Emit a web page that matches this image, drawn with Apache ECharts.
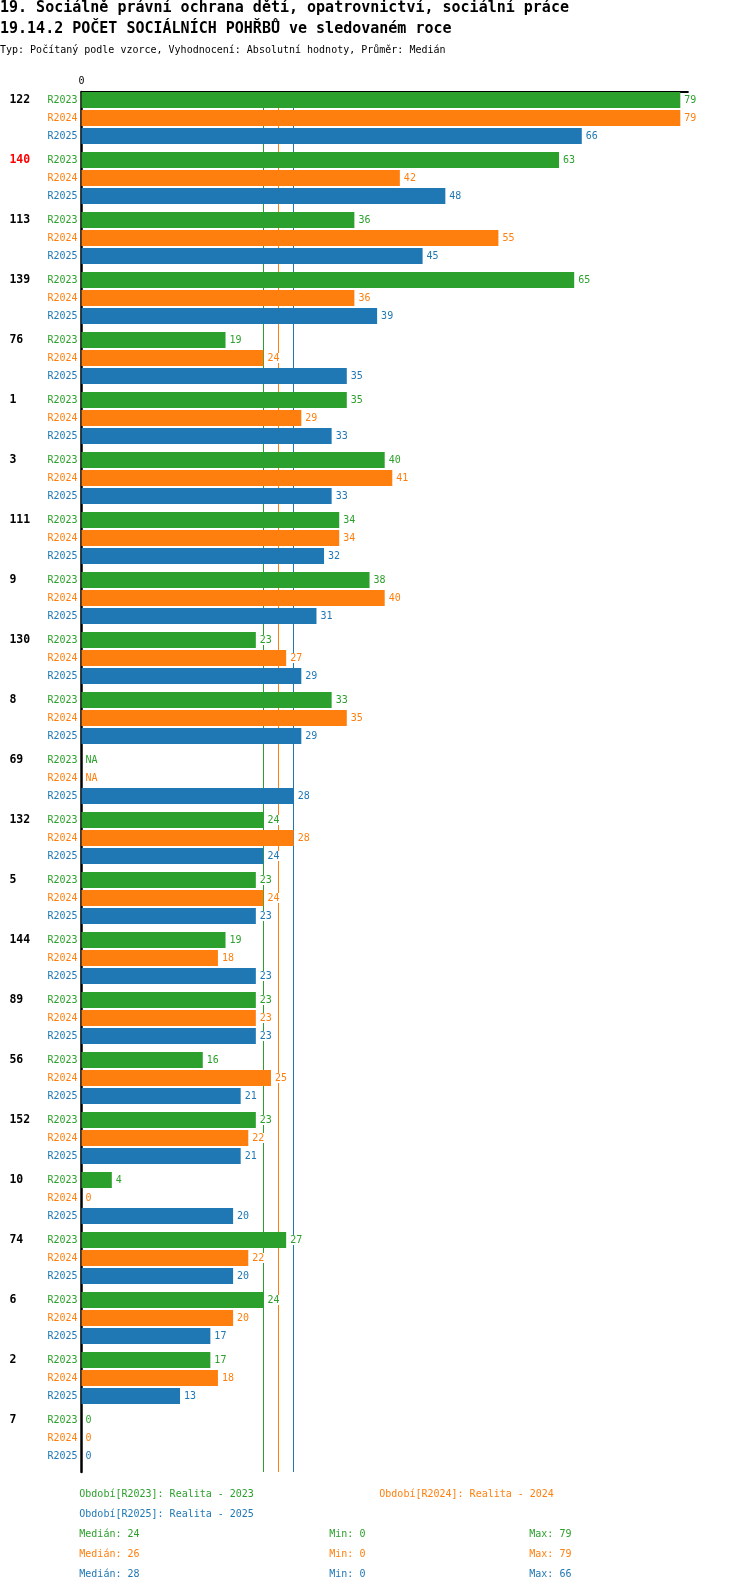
<!DOCTYPE html>
<html>
<head>
<meta charset="utf-8">
<script src="https://cdn.jsdelivr.net/npm/echarts@6/dist/echarts.min.js"></script>
<style>
html,body{margin:0;padding:0;background:#fff;}
#chart{width:750px;height:1592px;}
</style>
</head>
<body>
<div id="chart"></div>
<script>
const titleLine1 = '19. Sociálně právní ochrana dětí, opatrovnictví, sociální práce';
const titleLine2 = '19.14.2 POČET SOCIÁLNÍCH POHŘBŮ ve sledovaném roce';
const subtitle = 'Typ: Počítaný podle vzorce, Vyhodnocení: Absolutní hodnoty, Průměr: Medián';

const categories = ['122','140','113','139','76','1','3','111','9','130','8','69','132','5','144','89','56','152','10','74','6','2','7'];
const highlighted = ['140'];
const periods = ['R2023','R2024','R2025'];
const periodNames = ['Realita - 2023','Realita - 2024','Realita - 2025'];
const r2023 = [79,63,36,65,19,35,40,34,38,23,33,null,24,23,19,23,16,23,4,27,24,17,0];
const r2024 = [79,42,55,36,24,29,41,34,40,27,35,null,28,24,18,23,25,22,0,22,20,18,0];
const r2025 = [66,48,45,39,35,33,33,32,31,29,29,28,24,23,23,23,21,21,20,20,17,13,0];
const medians = [24,26,28];
const mins = [0,0,0];
const maxs = [79,79,66];
const colors = ['#2ca02c','#ff7f0e','#1f77b4'];

const FONT = "'DejaVu Sans Mono', monospace";
const seriesValues = [r2023, r2024, r2025];

function toData(arr){
  return arr.map(v => v === null ? {value: 0, label: {formatter: 'NA'}} : v);
}

const series = periods.map((p, i) => ({
  name: p,
  type: 'bar',
  data: toData(seriesValues[i]),
  barWidth: 16,
  barGap: '12.5%',
  itemStyle: {color: colors[i]},
  label: {
    show: true,
    position: 'right',
    distance: 3,
    color: colors[i],
    fontFamily: FONT,
    fontSize: 10,
    backgroundColor: '#fff',
    padding: [0, 1]
  },
  markLine: {
    silent: true,
    symbol: 'none',
    z: 1,
    label: {show: false},
    lineStyle: {color: colors[i], width: 1, type: 'solid'},
    data: [{xAxis: medians[i]}]
  }
}));
// empty spacer series keeps the 8px gap below each group of bars
series.push({
  name: 'spacer',
  type: 'bar',
  data: [],
  barWidth: 6,
  barGap: '12.5%',
  silent: true
});

const rich = {
  n: {width: 38, align: 'left', fontWeight: 'bold', fontSize: 11.5, color: '#000', lineHeight: 18, fontFamily: FONT},
  nr: {width: 38, align: 'left', fontWeight: 'bold', fontSize: 11.5, color: '#ff0000', lineHeight: 18, fontFamily: FONT}
};
periods.forEach((p, i) => {
  rich['p' + i] = {align: 'right', color: colors[i], fontSize: 10, lineHeight: 18, fontFamily: FONT};
});

const graphics = [
  {type: 'text', left: 0, top: 1, style: {text: titleLine1, font: "bold 15px " + FONT, fill: '#000'}},
  {type: 'text', left: 0, top: 22, style: {text: titleLine2, font: "bold 15px " + FONT, fill: '#000'}},
  {type: 'text', left: 0, top: 45, style: {text: subtitle, font: "10px " + FONT, fill: '#000'}}
];
const legendPos = [[79.3, 1494.3], [379.3, 1494.3], [79.3, 1514.3]];
periods.forEach((p, i) => {
  graphics.push({type: 'text', x: legendPos[i][0], y: legendPos[i][1],
    style: {text: 'Období[' + p + ']: ' + periodNames[i], font: "10px " + FONT, fill: colors[i], align: 'left', verticalAlign: 'middle'}});
  const y = 1534.3 + 20 * i;
  graphics.push({type: 'text', x: 79.3, y: y, style: {text: 'Medián: ' + medians[i], font: "10px " + FONT, fill: colors[i], align: 'left', verticalAlign: 'middle'}});
  graphics.push({type: 'text', x: 329.3, y: y, style: {text: 'Min: ' + mins[i], font: "10px " + FONT, fill: colors[i], align: 'left', verticalAlign: 'middle'}});
  graphics.push({type: 'text', x: 529.3, y: y, style: {text: 'Max: ' + maxs[i], font: "10px " + FONT, fill: colors[i], align: 'left', verticalAlign: 'middle'}});
});

const chart = echarts.init(document.getElementById('chart'), null, {renderer: 'canvas'});
chart.setOption({
  animation: false,
  backgroundColor: '#fff',
  textStyle: {fontFamily: FONT},
  grid: {left: 81.5, top: 92, width: 606.4, height: 1380, containLabel: false, outerBoundsMode: 'none'},
  xAxis: {
    type: 'value',
    position: 'top',
    min: 0,
    max: 80,
    interval: 80,
    splitLine: {show: false},
    axisTick: {show: false},
    axisLine: {show: true, lineStyle: {color: '#000', width: 2}},
    axisLabel: {
      margin: 6,
      fontSize: 10,
      color: '#000',
      fontFamily: FONT,
      formatter: v => (v === 0 ? '0' : '')
    }
  },
  yAxis: {
    type: 'category',
    data: categories,
    inverse: true,
    axisTick: {show: false},
    axisLine: {show: true, lineStyle: {color: '#000', width: 2.5}},
    splitLine: {show: false},
    axisLabel: {
      interval: 0,
      margin: 4,
      padding: [0, 0, 7, 0],
      formatter: v => {
        const key = highlighted.includes(v) ? 'nr' : 'n';
        return '{' + key + '|' + v + '}' + periods.map((p, i) => '{p' + i + '|' + p + '}').join('\n');
      },
      rich: rich
    }
  },
  graphic: graphics,
  series: series
});
</script>
</body>
</html>
